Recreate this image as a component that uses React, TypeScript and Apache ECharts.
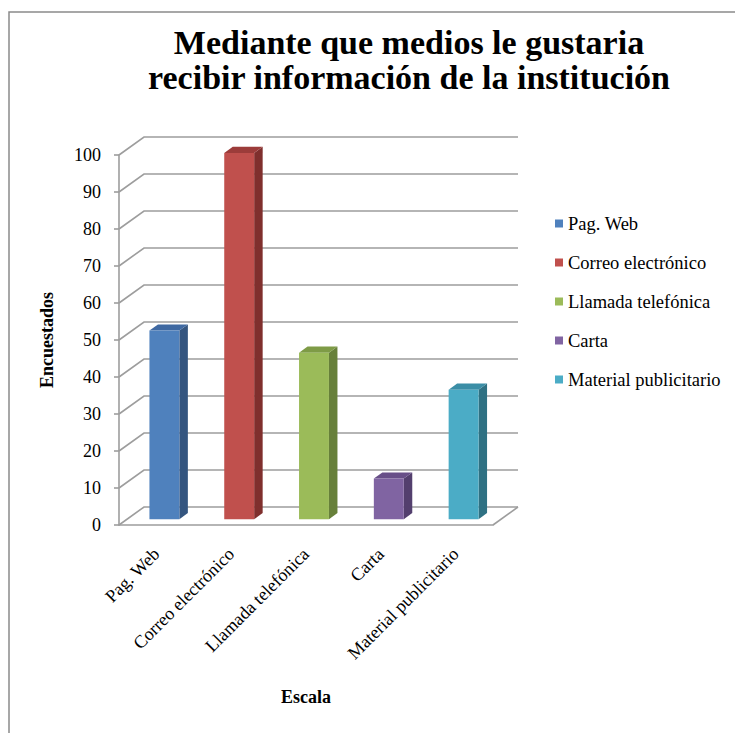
import React, { useEffect, useRef } from "react";
import * as echarts from "echarts";

const TITLE = "Mediante que medios le gustaria\nrecibir información de la institución";
const categories = ["Pag. Web", "Correo electrónico", "Llamada telefónica", "Carta", "Material publicitario"];
const values = [51, 99, 45, 11, 35];
const yTicks = [0, 10, 20, 30, 40, 50, 60, 70, 80, 90, 100];
const frontColors = ["#4F81BD", "#C0504D", "#9BBB59", "#8064A2", "#4BACC6"];
const sideColors = ["#34557F", "#7F2F2D", "#67803A", "#533F6E", "#2F7183"];
const topColors = ["#3F69A2", "#9C3C3A", "#7E9B46", "#684F88", "#3B8EA6"];
const Y_NAME = "Encuestados";
const X_NAME = "Escala";

const DX = 25;
const DY = 18;
const F0 = 0.32;
const F1 = 0.66;
const GRID_COLOR = "#9d9d9d";
const SERIF = "Liberation Serif";

export default function App() {
  const ref = useRef<HTMLDivElement>(null);
  useEffect(() => {
    if (!ref.current) return;
    const chart = echarts.init(ref.current, null, { renderer: "svg" });

    const gridSeries: any = {
      type: "custom",
      name: "__grid",
      z: 1,
      silent: true,
      data: yTicks.map((t) => [0, t]),
      encode: { x: 0, y: 1 },
      renderItem: (params: any, api: any) => {
        const cs = params.coordSys;
        const y = api.coord([0, api.value(1)])[1];
        const x0 = cs.x;
        const x1 = cs.x + cs.width;
        const style = { stroke: GRID_COLOR, lineWidth: 1.6, fill: null };
        const children: any[] = [
          {
            type: "polyline",
            shape: { points: [[x0, y], [x0 + DX, y - DY], [x1 + DX, y - DY]] },
            style,
          },
        ];
        if (api.value(1) === 0) {
          children.push({
            type: "line",
            shape: { x1: x1 + DX, y1: y - DY, x2: x1, y2: y },
            style,
          });
        }
        return { type: "group", children };
      },
    };

    const barSeries = categories.map((name, k) => ({
      type: "custom",
      name,
      z: 3,
      itemStyle: { color: frontColors[k] },
      data: [[k, values[k]]],
      encode: { x: 0, y: 1 },
      renderItem: (params: any, api: any) => {
        const xi = api.value(0);
        const v = api.value(1);
        const [cx, yv] = api.coord([xi, v]);
        const y0 = api.coord([xi, 0])[1];
        const band = api.size([1, 0])[0];
        const w = band * 0.4;
        const ox0 = F0 * DX;
        const oy0 = F0 * DY;
        const dd = (F1 - F0) * DX;
        const dv = (F1 - F0) * DY;
        const left = cx - w / 2 + ox0;
        const right = left + w;
        const top = yv - oy0;
        const bottom = y0 - oy0;
        return {
          type: "group",
          children: [
            {
              type: "polygon",
              shape: { points: [[right, top], [right + dd, top - dv], [right + dd, bottom - dv], [right, bottom]] },
              style: { fill: sideColors[k] },
            },
            {
              type: "polygon",
              shape: { points: [[left, top], [right, top], [right + dd, top - dv], [left + dd, top - dv]] },
              style: { fill: topColors[k] },
            },
            {
              type: "rect",
              shape: { x: left, y: top, width: w, height: bottom - top },
              style: { fill: frontColors[k] },
            },
          ],
        };
      },
    }));

    chart.setOption({
      animation: false,
      backgroundColor: "#ffffff",
      textStyle: { fontFamily: SERIF },
      title: {
        text: TITLE,
        left: 409,
        top: 25,
        textAlign: "center",
        padding: 0,
        textStyle: {
          fontFamily: SERIF,
          fontSize: 34,
          fontWeight: "bold",
          color: "#000",
          lineHeight: 35,
        },
      },
      graphic: [
        {
          type: "rect",
          shape: { x: 9, y: 12, width: 1000, height: 1000 },
          style: { fill: null, stroke: "#8a8a8a", lineWidth: 1.5 },
          silent: true,
          z: -1,
        },
      ],
      legend: {
        orient: "vertical",
        left: 555,
        top: 214,
        padding: 0,
        itemWidth: 8,
        itemHeight: 8,
        itemGap: 20,
        icon: "rect",
        data: categories,
        textStyle: { fontFamily: SERIF, fontSize: 18.5, color: "#000" },
      },
      grid: { left: 119, right: 242, top: 155, bottom: 208, containLabel: false },
      xAxis: {
        type: "category",
        data: categories,
        axisLine: { show: true, lineStyle: { color: GRID_COLOR, width: 1.6 } },
        axisTick: { show: false },
        axisLabel: {
          rotate: 45,
          margin: 26,
          interval: 0,
          fontFamily: SERIF,
          fontSize: 18,
          color: "#000",
        },
        name: X_NAME,
        nameLocation: "middle",
        nameGap: 163,
        nameTextStyle: { fontFamily: SERIF, fontSize: 18, fontWeight: "bold", color: "#000" },
      },
      yAxis: {
        type: "value",
        min: 0,
        max: 100,
        interval: 10,
        axisLine: { show: true, lineStyle: { color: GRID_COLOR, width: 1.6 } },
        axisTick: { show: true, length: 5, lineStyle: { color: GRID_COLOR, width: 1.6 } },
        splitLine: { show: false },
        axisLabel: { margin: 18, fontFamily: SERIF, fontSize: 18, color: "#000" },
        name: Y_NAME,
        nameLocation: "middle",
        nameGap: 63,
        nameTextStyle: { fontFamily: SERIF, fontSize: 18, fontWeight: "bold", color: "#000" },
      },
      series: [gridSeries, ...barSeries],
    });
    return () => chart.dispose();
  }, []);
  return (
    <div
      ref={ref}
      style={{ position: "fixed", left: 0, top: 0, width: 735, height: 733 }}
    />
  );
}
